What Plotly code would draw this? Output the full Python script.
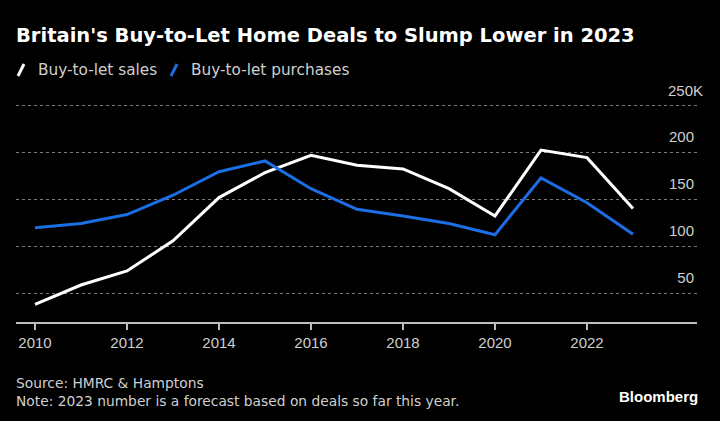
import plotly.graph_objects as go

years = list(range(2010, 2024))
sales = [38, 58.5, 73.5, 105.5, 151.5, 178, 196.5, 186, 182, 161, 132, 202, 194, 140]
purchases = [119.5, 124, 133.5, 154, 179, 190.5, 161, 139, 132, 124, 112, 172.5, 146, 112.5]
y_tick_vals = [50, 100, 150, 200, 250]
y_tick_text = ["50", "100", "150", "200", "250K"]
x_tick_vals = [2010, 2012, 2014, 2016, 2018, 2020, 2022]

W, H = 720, 421
L, R, T, B = 16, 697, 103, 322
FONT = "Liberation Sans, Arial, sans-serif"
WIDE = "DejaVu Sans, sans-serif"
WHITE = "#ffffff"
BLUE = "#1b6ee3"
GREY = "#cfcfcf"

def px(x):
    return (x - L) / (R - L)

def py(y):
    return (B - y) / (B - T)

fig = go.Figure()
fig.add_trace(go.Scatter(x=years, y=sales, mode="lines", name="Buy-to-let sales",
                         line=dict(color=WHITE, width=3)))
fig.add_trace(go.Scatter(x=years, y=purchases, mode="lines", name="Buy-to-let purchases",
                         line=dict(color=BLUE, width=3)))

fig.update_layout(
    width=W, height=H,
    paper_bgcolor="#000000", plot_bgcolor="#000000",
    margin=dict(l=L, r=W - R, t=T, b=H - B, autoexpand=False),
    showlegend=False,
    font=dict(family=FONT, color=GREY, size=14),
    title=dict(text="<b>Britain's Buy-to-Let Home Deals to Slump Lower in 2023</b>",
               x=16 / W, xanchor="left", xref="container",
               y=1 - 35 / H, yanchor="middle", yref="container",
               font=dict(family=WIDE, size=19.5, color=WHITE)),
)

fig.update_xaxes(
    range=[2010 - 19 / 46, 2010 + (R - 35) / 46],
    tickvals=x_tick_vals, ticktext=[str(v) for v in x_tick_vals],
    showgrid=False, zeroline=False, automargin=False,
    showline=True, linecolor="#bdbdbd", linewidth=1.5,
    ticks="outside", ticklen=6, tickwidth=1.5, tickcolor="#bdbdbd",
    tickfont=dict(size=15, color=GREY),
)
# the top label sits above the plot area, so it is drawn as an annotation
fig.update_yaxes(
    range=[(340 - B) / 0.94, (340 - T) / 0.94], side="right", automargin=False,
    tickvals=y_tick_vals, ticktext=y_tick_text[:-1] + [""],
    ticklabelposition="inside", ticklabelshift=-15, ticks="",
    showgrid=True, gridcolor="#7a7a7a", gridwidth=1, griddash="dot",
    zeroline=False, showline=False,
    tickfont=dict(size=15, color=GREY),
)
fig.add_annotation(text=y_tick_text[-1], xref="paper", yref="y",
                   x=px(705), y=y_tick_vals[-1], yshift=15,
                   xanchor="right", yanchor="middle", showarrow=False,
                   font=dict(size=15, color=GREY))

# legend
fig.add_shape(type="line", xref="paper", yref="paper",
              x0=px(18), y0=py(76), x1=px(24), y1=py(64),
              line=dict(color=WHITE, width=3))
fig.add_shape(type="line", xref="paper", yref="paper",
              x0=px(171), y0=py(76), x1=px(177), y1=py(64),
              line=dict(color=BLUE, width=3))
fig.add_annotation(text="Buy-to-let sales", xref="paper", yref="paper",
                   x=px(36), y=py(70), xanchor="left", yanchor="middle",
                   showarrow=False, font=dict(family=WIDE, size=15.3, color=GREY))
fig.add_annotation(text="Buy-to-let purchases", xref="paper", yref="paper",
                   x=px(189), y=py(70), xanchor="left", yanchor="middle",
                   showarrow=False, font=dict(family=WIDE, size=15.3, color=GREY))

# footer
fig.add_annotation(text="Source: HMRC & Hamptons<br>Note: 2023 number is a forecast based on deals so far this year.",
                   xref="paper", yref="paper", x=px(14), y=py(373),
                   xanchor="left", yanchor="top", align="left", showarrow=False,
                   font=dict(family=WIDE, size=13.8, color=GREY))
fig.add_annotation(text="<b>Bloomberg</b>", xref="paper", yref="paper",
                   x=px(700), y=py(396), xanchor="right", yanchor="middle",
                   showarrow=False, font=dict(size=15, color=WHITE))

fig.write_html("out.html", config={"displayModeBar": False},
               post_script="document.body.style.margin='0';document.body.style.padding='0';")
